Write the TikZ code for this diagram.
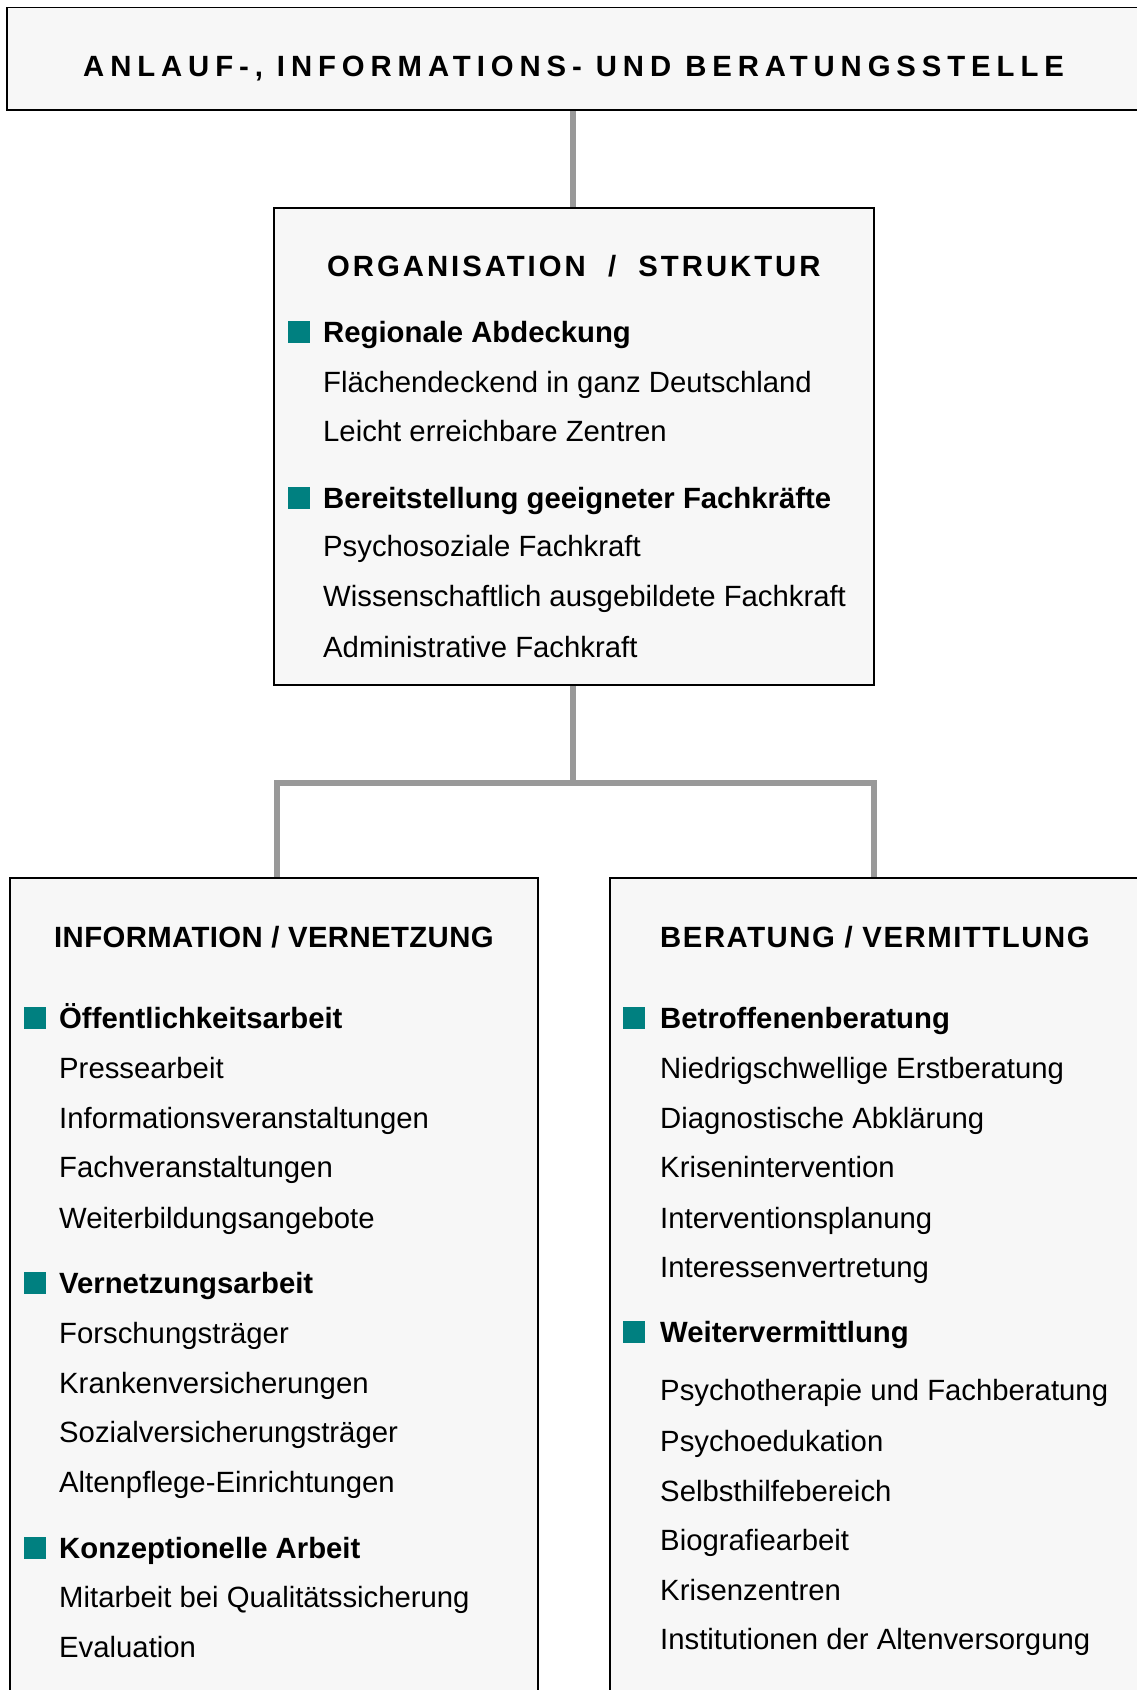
\documentclass[tikz,border=0pt]{standalone}
\usepackage{fontspec}
\usetikzlibrary{calc}
\setmainfont{Liberation Sans}
\newfontfamily\titlefont[LetterSpace=20.2]{Liberation Sans}
\newfontfamily\orgfont[LetterSpace=10.2]{Liberation Sans}
\newfontfamily\berfont[LetterSpace=5.3]{Liberation Sans}
\newfontfamily\infofont[LetterSpace=1.4]{Liberation Sans}
\definecolor{boxfill}{HTML}{F7F7F7}
\definecolor{connc}{HTML}{999999}
\definecolor{sqc}{HTML}{008080}
\begin{document}
\begin{tikzpicture}[x=1pt,y=-1pt,
  box/.style={draw=black, line width=1.6pt, fill=boxfill, inner sep=0pt, outer sep=0pt, rectangle},
  conn/.style={draw=connc, line width=5.2pt},
  txt/.style={anchor=base west, inner sep=0pt, font=\fontsize{29.3}{35}\selectfont},
  btxt/.style={anchor=base west, inner sep=0pt, font=\bfseries\fontsize{29.3}{35}\selectfont},
  sq/.style={fill=sqc, minimum size=21.5pt, inner sep=0pt, outer sep=0pt, rectangle}]
\useasboundingbox (0,0) rectangle (1136,1690);
% connectors (drawn first, boxes on top)
\coordinate (j) at (573,783);
\node[box, minimum width=1137.5pt, minimum height=102.5pt, draw=none, fill=none] (top) at (576,58.75) {};
\node[box, minimum width=600pt, minimum height=477pt, draw=none, fill=none] (org) at (574,446.5) {};
\node[box, minimum width=528pt, minimum height=822pt, draw=none, fill=none] (info) at (274,1289) {};
\node[box, minimum width=535pt, minimum height=822pt, draw=none, fill=none] (ber) at (877.5,1289) {};
\draw[conn] (top.south -| j) -- (org.north -| j);
\draw[conn] (org.south -| j) -- (j);
\draw[conn] ($(info.north -| org.west)+(3,0)$) |- (j) -| (ber.north -| org.east);
% boxes
\node[box, minimum width=1137.5pt, minimum height=102.5pt] (topb) at (top) {};
\node[box, minimum width=600pt, minimum height=477pt] (orgb) at (org) {};
\node[box, minimum width=528pt, minimum height=822pt] (infob) at (info) {};
\node[box, minimum width=535pt, minimum height=822pt] (berb) at (ber) {};
% top title
\node[anchor=base west, inner sep=0pt, font=\titlefont\bfseries\fontsize{29.3}{35}\selectfont] (title) at (83,76.5) {ANLAUF-, INFORMATIONS- UND BERATUNGSSTELLE};
% organisation box
\node[anchor=base west, inner sep=0pt, font=\orgfont\bfseries\fontsize{29.3}{35}\selectfont] (orgh) at (327,276.5) {ORGANISATION\ \ /\ \ STRUKTUR};
\node[sq] (osq1) at (298.75,332) {};
\node[btxt] (o1) at (323,342.5) {Regionale Abdeckung};
\node[txt] (o2) at (323,392.5) {Flächendeckend in ganz Deutschland};
\node[txt] (o3) at (323,441.5) {Leicht erreichbare Zentren};
\node[sq] (osq2) at (298.75,498) {};
\node[btxt] (o4) at (323,508.5) {Bereitstellung geeigneter Fachkräfte};
\node[txt] (o5) at (323,556.5) {Psychosoziale Fachkraft};
\node[txt] (o6) at (323,606.5) {Wissenschaftlich ausgebildete Fachkraft};
\node[txt] (o7) at (323,657.5) {Administrative Fachkraft};
% information box
\node[anchor=base west, inner sep=0pt, font=\infofont\bfseries\fontsize{29.3}{35}\selectfont] (ih) at (54,947.5) {INFORMATION / VERNETZUNG};
\node[sq] (isq1) at (34.75,1018) {};
\node[btxt] (i1) at (59,1028.5) {Öffentlichkeitsarbeit};
\node[txt] (i2) at (59,1078.5) {Pressearbeit};
\node[txt] (i3) at (59,1128.5) {Informationsveranstaltungen};
\node[txt] (i4) at (59,1177.5) {Fachveranstaltungen};
\node[txt] (i5) at (59,1228.5) {Weiterbildungsangebote};
\node[sq] (isq2) at (34.75,1283) {};
\node[btxt] (i6) at (59,1293.5) {Vernetzungsarbeit};
\node[txt] (i7) at (59,1343.5) {Forschungsträger};
\node[txt] (i8) at (59,1393.5) {Krankenversicherungen};
\node[txt] (i9) at (59,1442.5) {Sozialversicherungsträger};
\node[txt] (i10) at (59,1492.5) {Altenpflege-Einrichtungen};
\node[sq] (isq3) at (34.75,1548) {};
\node[btxt] (i11) at (59,1558.5) {Konzeptionelle Arbeit};
\node[txt] (i12) at (59,1607.5) {Mitarbeit bei Qualitätssicherung};
\node[txt] (i13) at (59,1657.5) {Evaluation};
% beratung box
\node[anchor=base west, inner sep=0pt, font=\berfont\bfseries\fontsize{29.3}{35}\selectfont] (bh) at (660,947.5) {BERATUNG / VERMITTLUNG};
\node[sq] (bsq1) at (633.75,1018) {};
\node[btxt] (b1) at (660,1028.5) {Betroffenenberatung};
\node[txt] (b2) at (660,1078.5) {Niedrigschwellige Erstberatung};
\node[txt] (b3) at (660,1128.5) {Diagnostische Abklärung};
\node[txt] (b4) at (660,1177.5) {Krisenintervention};
\node[txt] (b5) at (660,1228.5) {Interventionsplanung};
\node[txt] (b6) at (660,1277.5) {Interessenvertretung};
\node[sq] (bsq2) at (633.75,1332) {};
\node[btxt] (b7) at (660,1342.5) {Weitervermittlung};
\node[txt] (b8) at (660,1400.5) {Psychotherapie und Fachberatung};
\node[txt] (b9) at (660,1451.5) {Psychoedukation};
\node[txt] (b10) at (660,1501.5) {Selbsthilfebereich};
\node[txt] (b11) at (660,1550.5) {Biografiearbeit};
\node[txt] (b12) at (660,1600.5) {Krisenzentren};
\node[txt] (b13) at (660,1649.5) {Institutionen der Altenversorgung};
\end{tikzpicture}
\end{document}
